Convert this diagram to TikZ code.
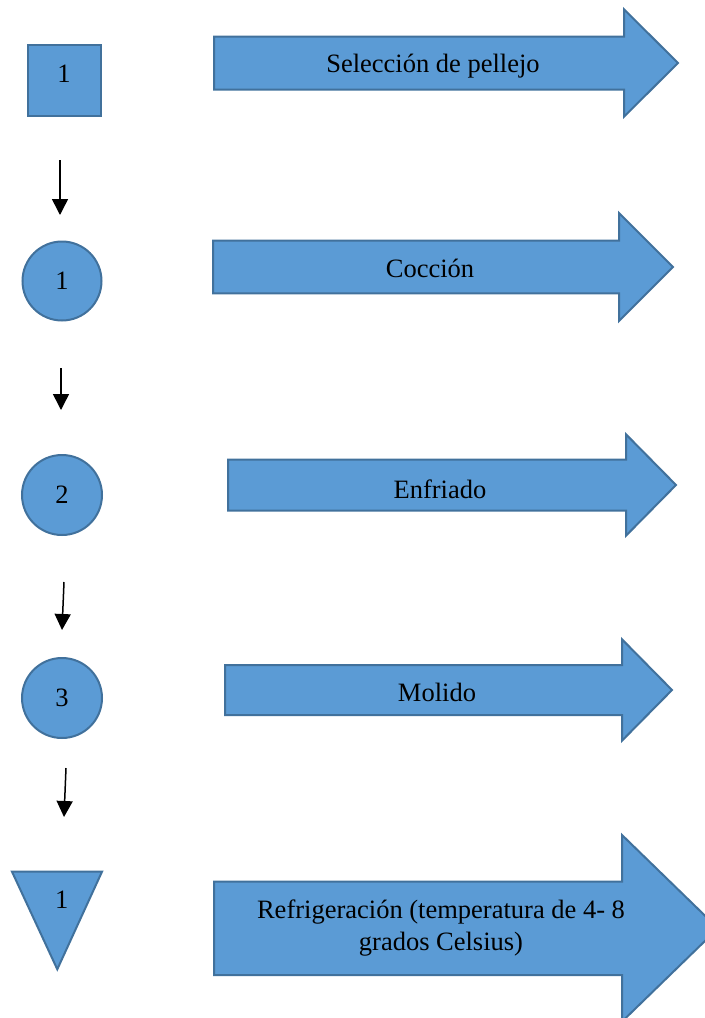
\documentclass[tikz,border=0pt]{standalone}
\usepackage{fontspec}
\setmainfont{Liberation Serif}
\usepackage{tikz}
\usetikzlibrary{arrows.meta}
\definecolor{flow-fill}{HTML}{5B9BD5}
\definecolor{flow-line}{HTML}{41719C}

\begin{document}
\begin{tikzpicture}[x=0.5pt, y=-0.5pt,
    symbol/.style={draw=flow-line, fill=flow-fill, line width=1pt, inner sep=0pt},
    texto/.style={font=\fontsize{13.25pt}{16pt}\selectfont, align=center, inner sep=0pt},
    flecha/.style={-{Triangle[width=8pt, length=8pt]}, line width=0.75pt},
    bigarrow/.style={draw=flow-line, fill=flow-fill, line width=1pt, line join=miter},
]
    \useasboundingbox (0,0) rectangle (705,1018);
    \clip (0,0) rectangle (705,1018);

    % Symbols (left column)
    \node[symbol, minimum width=36.5pt, minimum height=35.5pt] (cuadro) at (64.5,80.5) {};
    \node[texto] (n0) at (64,74) {1};
    \node[symbol, circle, minimum size=39.5pt, texto] (op1) at (62,281) {1};
    \node[symbol, circle, minimum size=40pt, texto] (op2) at (62,495) {2};
    \node[symbol, circle, minimum size=40pt, texto] (op3) at (62,698) {3};
    \draw[bigarrow] (12,871.7) -- (102,871.7) -- (57.3,969.3) -- cycle;
    \node[texto] (alm1) at (61.7,900) {1};

    % Flow arrows between symbols
    \coordinate (a1) at (60,160);  \coordinate (b1) at (60,215);
    \coordinate (a2) at (61,368);  \coordinate (b2) at (61,410);
    \coordinate (a3) at (64,582);  \coordinate (b3) at (62,630);
    \coordinate (a4) at (66,768);  \coordinate (b4) at (64,817);
    \foreach \i in {1,...,4}
        \draw[flecha] (a\i) -- (b\i);

    % Block arrows (right column)
    \foreach \c/\hb/\hh/\xa/\xh/\xt in {63/26.5/53.7/214/624/678, 267/26.3/54/213/619/673,
        485/25.5/50.7/228/626/676, 690/25/50.7/225/622/672, 928.3/46.8/93.3/214/622/718} {
        \draw[bigarrow] (\xa,\c-\hb) -- (\xh,\c-\hb) -- (\xh,\c-\hh) -- (\xt,\c)
            -- (\xh,\c+\hh) -- (\xh,\c+\hb) -- (\xa,\c+\hb) -- cycle;
    }

    % Step names
    \node[texto] (paso1) at (433,66.5) {Selección de pellejo};
    \node[texto] (paso2) at (430,268) {Cocción};
    \node[texto] (paso3) at (440,489) {Enfriado};
    \node[texto] (paso4) at (437,692) {Molido};
    \node[texto] (paso5) at (441,928.5) {Refrigeración (temperatura de 4- 8\\grados Celsius)};

\end{tikzpicture}
\end{document}
